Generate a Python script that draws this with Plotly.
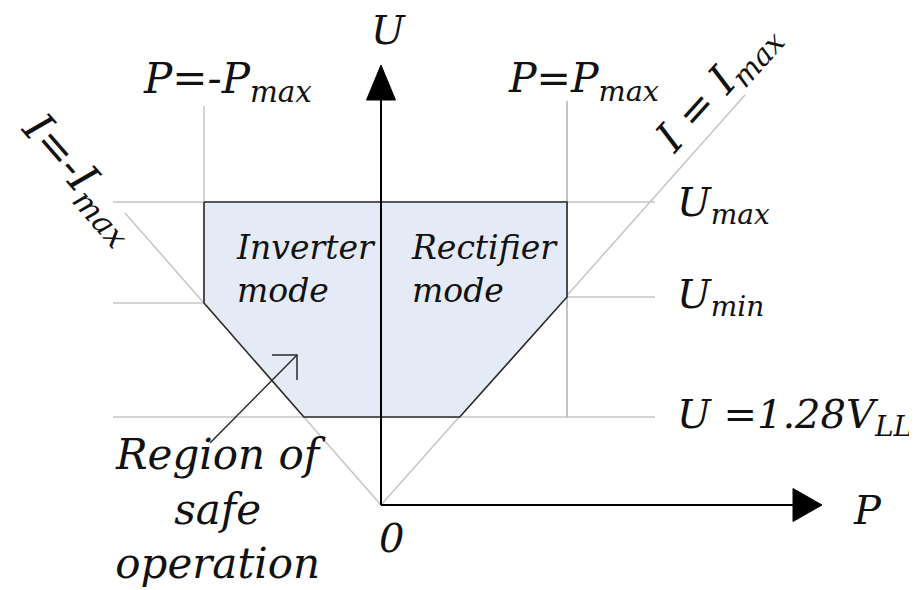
import plotly.graph_objects as go

# ---- data (diagram units: P horizontal, U vertical, origin at 0,0) ----
P_NEG_MAX = -177
P_POS_MAX = 186
U_MAX = 303
U_MIN_LEFT = 202
U_MIN_RIGHT = 208
U_DIODE = 88            # U = 1.28 V_LL
GUIDE_P_LEFT = -268
GUIDE_P_RIGHT = 274
VLINE_TOP_LEFT = 399
VLINE_TOP_RIGHT = 404
IMAX_NEG_END = (-256, 292)
IMAX_POS_END = (364, 410)
U_AXIS_END = 405
U_AXIS_TIP = 440
P_AXIS_END = 412
P_AXIS_TIP = 441
ARROW_HW = 14.5
ARROW_HH = 16.5
REGION_ARROW_START = (-171, 62)
REGION_ARROW_END = (-84, 150)
REGION_HEAD = 25

k_left = U_MIN_LEFT / -P_NEG_MAX
k_right = U_MIN_RIGHT / P_POS_MAX
p_bottom_left = -U_DIODE / k_left
p_bottom_right = U_DIODE / k_right

poly_p = [P_NEG_MAX, P_POS_MAX, P_POS_MAX, p_bottom_right, p_bottom_left, P_NEG_MAX, P_NEG_MAX]
poly_u = [U_MAX, U_MAX, U_MIN_RIGHT, U_DIODE, U_DIODE, U_MIN_LEFT, U_MAX]

GRAY = "#c4c4c4"
DARK = "#2a2a2a"
FONT = "DejaVu Serif"

fig = go.Figure()

def seg(xs, ys, color=GRAY, width=1.5):
    fig.add_trace(go.Scatter(x=xs, y=ys, mode="lines", line=dict(color=color, width=width),
                             hoverinfo="skip", showlegend=False))

# guide lines
seg([GUIDE_P_LEFT, GUIDE_P_RIGHT], [U_MAX, U_MAX])
seg([GUIDE_P_LEFT, P_NEG_MAX], [U_MIN_LEFT, U_MIN_LEFT])
seg([P_POS_MAX, GUIDE_P_RIGHT], [U_MIN_RIGHT, U_MIN_RIGHT])
seg([GUIDE_P_LEFT, GUIDE_P_RIGHT], [U_DIODE, U_DIODE])
seg([P_NEG_MAX, P_NEG_MAX], [U_MIN_LEFT, VLINE_TOP_LEFT])
seg([P_POS_MAX, P_POS_MAX], [U_DIODE, VLINE_TOP_RIGHT], color="#b0b0b0")
seg([0, IMAX_NEG_END[0]], [0, IMAX_NEG_END[1]])
seg([0, IMAX_POS_END[0]], [0, IMAX_POS_END[1]])

# safe operating region
fig.add_trace(go.Scatter(x=poly_p, y=poly_u, mode="lines", fill="toself",
                         fillcolor="#e5ebf6", line=dict(color=DARK, width=1.6),
                         hoverinfo="skip", showlegend=False))

# axes
seg([0, 0], [0, U_AXIS_END], color="black", width=2)
seg([0, P_AXIS_END], [0, 0], color="black", width=2)
fig.add_trace(go.Scatter(x=[-ARROW_HW, ARROW_HW, 0, -ARROW_HW],
                         y=[U_AXIS_END, U_AXIS_END, U_AXIS_TIP, U_AXIS_END],
                         mode="lines", fill="toself", fillcolor="black",
                         line=dict(color="black", width=1), hoverinfo="skip", showlegend=False))
fig.add_trace(go.Scatter(x=[P_AXIS_END, P_AXIS_END, P_AXIS_TIP, P_AXIS_END],
                         y=[-ARROW_HH, ARROW_HH, 0, -ARROW_HH],
                         mode="lines", fill="toself", fillcolor="black",
                         line=dict(color="black", width=1), hoverinfo="skip", showlegend=False))

# region pointer arrow (open head)
seg([REGION_ARROW_START[0], REGION_ARROW_END[0]], [REGION_ARROW_START[1], REGION_ARROW_END[1]],
    color=DARK, width=1.5)
seg([REGION_ARROW_END[0] - REGION_HEAD, REGION_ARROW_END[0], REGION_ARROW_END[0]],
    [REGION_ARROW_END[1], REGION_ARROW_END[1], REGION_ARROW_END[1] - REGION_HEAD],
    color=DARK, width=1.5)

def label(x, y, text, size=40, xanchor="center", yanchor="middle", angle=0, align="center"):
    fig.add_annotation(x=x, y=y, text=text, showarrow=False, xanchor=xanchor, yanchor=yanchor,
                       textangle=angle, align=align,
                       font=dict(family=FONT, size=size, color="#111", style="italic"))

label(7, 475, "U")
label(-154, 424, "P=-P<sub>max</sub>", size=42)
label(202, 424, "P=P<sub>max</sub>", size=41)
label(337, 417, "I = I<sub>max</sub>", size=42, angle=-48)
label(-301, 327, "I=-I<sub>max</sub>", size=44, angle=49)
label(294, U_MAX - 3, "U<sub>max</sub>", xanchor="left")
label(294, U_MIN_RIGHT, "U<sub>min</sub>", xanchor="left")
label(294, U_DIODE, "U =1.28V<sub>LL</sub>", xanchor="left")
label(486, -5, "P")
label(10, -33, "0")
label(-147, 236, "Inverter<br>mode", size=33, xanchor="left", align="left")
label(28, 236, "Rectifier<br>mode", size=33, xanchor="left", align="left")
label(-161, -4, "Region of<br>safe<br>operation", size=42)

# the page body has an 8px margin: shrink the figure and shift ranges to compensate
fig.update_layout(
    width=909, height=582, autosize=False,
    margin=dict(l=0, r=0, t=0, b=0),
    paper_bgcolor="white", plot_bgcolor="white",
    xaxis=dict(range=[-373, 536], visible=False, fixedrange=True),
    yaxis=dict(range=[-85, 497], visible=False, fixedrange=True),
    showlegend=False,
)

fig.write_html("out.html")
